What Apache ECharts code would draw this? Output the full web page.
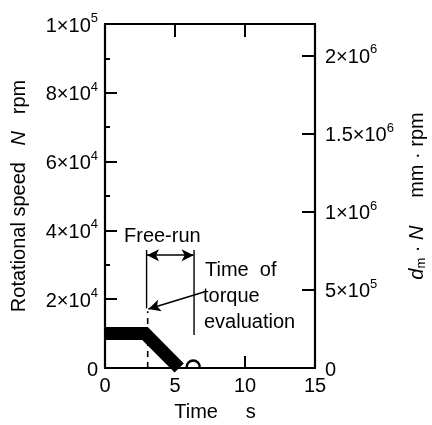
<!DOCTYPE html>
<html>
<head>
<meta charset="utf-8">
<script src="https://cdn.jsdelivr.net/npm/echarts@6/dist/echarts.min.js"></script>
<style>
  html, body { margin: 0; padding: 0; background: #fff; }
  #chart { width: 432px; height: 425px; }
</style>
</head>
<body>
<div id="chart"></div>
<script>
// Spindle run-down: constant speed, then free-run to stop
const timeS = [0, 2.86, 5.3];
const speedRpm = [10000, 10000, 0];
const stopTime = 6.3;

// Free-run bracket and torque-evaluation markers (time s, speed rpm)
const freeRunStart = 3.05;
const torqueEvalTime = 6.36;
const bracketTop = 34300;
const bracketArrowY = 32800;
const dashedTop = 16500;
const solidLeftBottom = 17400;
const torqueLineBottom = 9600;
const pointerFrom = [7.07, 22100];
const pointerTo = [3.1, 17150];

// Axis ticks
const timeTicks = [0, 5, 10, 15];
const speedTickLabels = ['0', '2×10{s|4}', '4×10{s|4}', '6×10{s|4}', '8×10{s|4}', '1×10{s|5}'];
const dmNTickLabels = ['0', '5×10{s|5}', '1×10{s|6}', '1.5×10{s|6}', '2×10{s|6}'];
const speedMax = 100000;
const dmNMax = 2.2e6;

const FONT = "'Liberation Sans', Arial, Helvetica, sans-serif";
const supRich = {
  b: { fontSize: 20, fontFamily: FONT, color: '#000', padding: [4, 0, 0, 0] },
  s: { fontSize: 13, fontFamily: FONT, color: '#000', verticalAlign: 'top' }
};
function richLabel(str) {
  if (str === '0') return '{b|0}';
  return str.replace(/^([^{]*)/, '{b|$1}');
}

const chart = echarts.init(document.getElementById('chart'), null, { renderer: 'canvas' });

const axisLine = { show: true, onZero: false, lineStyle: { color: '#000', width: 2.2 } };

const option = {
  backgroundColor: '#fff',
  animation: false,
  grid: { left: 105, right: 117, top: 24, bottom: 57, outerBoundsMode: 'none', containLabel: false },
  xAxis: [
    {
      type: 'value', min: 0, max: 15, interval: 5, position: 'bottom',
      axisLine, splitLine: { show: false },
      axisTick: { show: true, inside: true, length: 12, lineStyle: { color: '#000', width: 2 } },
      axisLabel: {
        color: '#000', fontSize: 20, fontFamily: FONT, margin: 8,
        formatter: v => (timeTicks.indexOf(v) >= 0 ? String(v) : '')
      },
      name: 'Time     s', nameLocation: 'middle', nameGap: 34,
      nameTextStyle: { color: '#000', fontSize: 20, fontFamily: FONT, padding: [0, 0, 0, 10] }
    },
    {
      type: 'value', min: 0, max: 15, interval: 5, position: 'top',
      axisLine, splitLine: { show: false },
      axisTick: { show: true, inside: true, length: 13, lineStyle: { color: '#000', width: 2 } },
      axisLabel: { show: false }
    }
  ],
  yAxis: [
    {
      type: 'value', min: 0, max: speedMax, interval: 20000, position: 'left',
      axisLine, splitLine: { show: false },
      axisTick: { show: true, inside: true, length: 12, lineStyle: { color: '#000', width: 2 } },
      minorTick: { show: true, splitNumber: 2, length: 5, lineStyle: { color: '#000', width: 2 } },
      axisLabel: {
        margin: 7,
        formatter: (v) => {
          const i = Math.round(v / 20000);
          return richLabel(speedTickLabels[i] || '');
        },
        rich: supRich
      },
      name: 'Rotational speed   {i|N}   rpm', nameLocation: 'middle', nameRotate: 90, nameGap: 76,
      nameTextStyle: {
        color: '#000', fontSize: 20, fontFamily: FONT,
        rich: { i: { fontSize: 20, fontFamily: FONT, fontStyle: 'italic', color: '#000' } }
      }
    },
    {
      type: 'value', min: 0, max: dmNMax, interval: 500000, position: 'right',
      axisLine, splitLine: { show: false },
      axisTick: { show: true, inside: true, length: 13, lineStyle: { color: '#000', width: 2 } },
      axisLabel: {
        margin: 10, showMaxLabel: false,
        formatter: (v) => {
          const i = Math.round(v / 500000);
          if (Math.abs(v - i * 500000) > 1) return '';
          return richLabel(dmNTickLabels[i] || '');
        },
        rich: supRich
      },
      name: '{d|d}{m|m} · {i|N}     mm · rpm', nameLocation: 'middle', nameRotate: 90, nameGap: 92,
      nameTextStyle: {
        color: '#000', fontSize: 20, fontFamily: FONT,
        rich: {
          d: { fontSize: 20, fontFamily: FONT, fontStyle: 'italic', color: '#000' },
          m: { fontSize: 13, fontFamily: FONT, color: '#000', verticalAlign: 'bottom', padding: [8, 0, 0, 0] },
          i: { fontSize: 20, fontFamily: FONT, fontStyle: 'italic', color: '#000' }
        }
      }
    }
  ],
  series: [
    {
      name: 'speed', type: 'line', xAxisIndex: 0, yAxisIndex: 0,
      data: timeS.map((t, i) => [t, speedRpm[i]]),
      symbol: 'none', clip: true,
      lineStyle: { color: '#000', width: 13, cap: 'butt', join: 'miter' }
    },
    {
      name: 'stop', type: 'custom', xAxisIndex: 0, yAxisIndex: 0,
      data: [[stopTime, 0]],
      renderItem: (params, api) => {
        const p = api.coord([api.value(0), api.value(1)]);
        return {
          type: 'arc',
          shape: { cx: p[0], cy: p[1] - 1, r: 6.5, startAngle: Math.PI, endAngle: 2 * Math.PI, clockwise: true },
          style: { stroke: '#000', lineWidth: 2.4, fill: null }
        };
      }
    },
    {
      name: 'freeRunDashed', type: 'line', symbol: 'none',
      data: [[freeRunStart, 0], [freeRunStart, dashedTop]],
      lineStyle: { color: '#000', width: 1.6, type: [6, 5] }
    },
    {
      name: 'freeRunSolid', type: 'line', symbol: 'none',
      data: [[freeRunStart - 0.08, solidLeftBottom], [freeRunStart - 0.08, bracketTop]],
      lineStyle: { color: '#000', width: 1.4 }
    },
    {
      name: 'torqueEval', type: 'line', symbol: 'none',
      data: [[torqueEvalTime, torqueLineBottom], [torqueEvalTime, bracketTop]],
      lineStyle: { color: '#000', width: 1.4 },
      markLine: {
        silent: true, animation: false,
        label: { show: false },
        lineStyle: { color: '#000', width: 1.6, type: 'solid' },
        symbolSize: [9, 12],
        data: [
          [
            { coord: [freeRunStart - 0.05, bracketArrowY], symbol: 'arrow' },
            { coord: [torqueEvalTime - 0.03, bracketArrowY], symbol: 'arrow' }
          ],
          [
            { coord: pointerFrom, symbol: 'none' },
            { coord: pointerTo, symbol: 'arrow' }
          ]
        ]
      }
    }
  ],
  graphic: [
    { type: 'text', left: 124, top: 226, style: { text: 'Free-run', font: "20px " + FONT, fill: '#000' } },
    { type: 'text', left: 205, top: 260, style: { text: 'Time  of', font: "20px " + FONT, fill: '#000' } },
    { type: 'text', left: 203, top: 286, style: { text: 'torque', font: "20px " + FONT, fill: '#000' } },
    { type: 'text', left: 204, top: 312, style: { text: 'evaluation', font: "20px " + FONT, fill: '#000' } }
  ]
};

chart.setOption(option);
</script>
</body>
</html>
